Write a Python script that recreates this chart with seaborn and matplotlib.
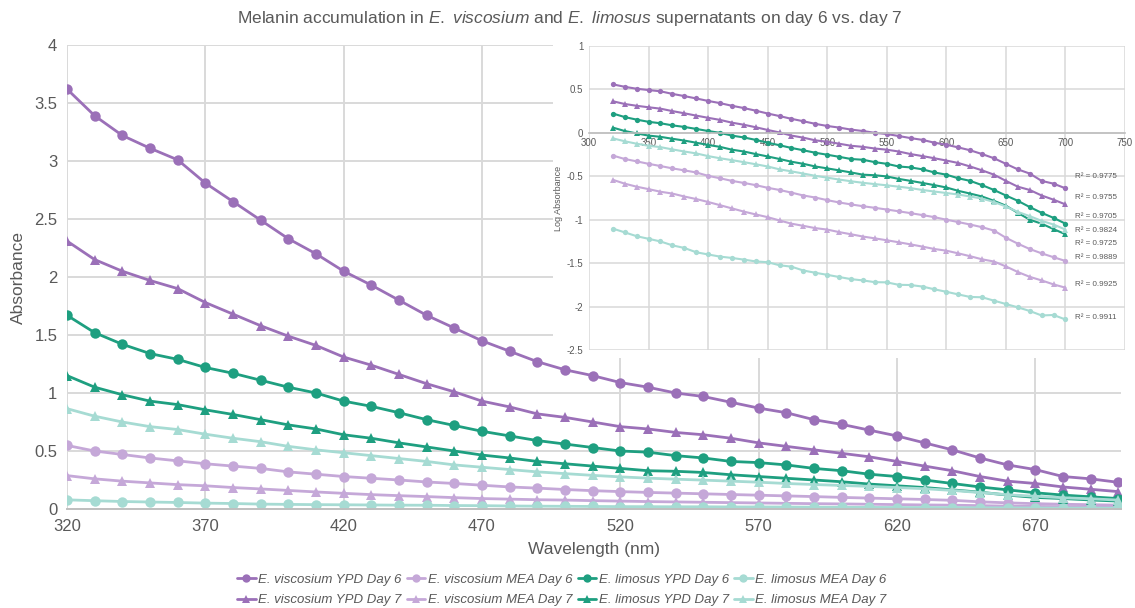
import numpy as np
import pandas as pd
import seaborn as sns
import matplotlib.pyplot as plt
from matplotlib.patches import Rectangle
from matplotlib.lines import Line2D

sns.set_style('white')
plt.rcParams['font.family'] = ['Liberation Sans', 'DejaVu Sans']
plt.rcParams['mathtext.fontset'] = 'custom'
plt.rcParams['mathtext.rm'] = 'Liberation Sans'
plt.rcParams['mathtext.it'] = 'Liberation Sans:italic'
plt.rcParams['axes.unicode_minus'] = False

# %% data (absorbance, 320-700 nm every 10 nm)
wavelength = list(range(320, 701, 10))

visc_ypd_d6 = [3.62, 3.39, 3.22, 3.11, 3.01, 2.81, 2.65, 2.49, 2.33, 2.20,
               2.05, 1.93, 1.80, 1.67, 1.56, 1.45, 1.36, 1.27, 1.20, 1.15,
               1.09, 1.05, 1.00, 0.97, 0.92, 0.87, 0.83, 0.77, 0.73, 0.68,
               0.63, 0.57, 0.51, 0.44, 0.38, 0.34, 0.28, 0.26, 0.23]
visc_ypd_d7 = [2.31, 2.15, 2.05, 1.97, 1.90, 1.78, 1.68, 1.58, 1.49, 1.41,
               1.31, 1.24, 1.16, 1.08, 1.01, 0.93, 0.88, 0.82, 0.79, 0.75,
               0.71, 0.69, 0.66, 0.64, 0.61, 0.57, 0.54, 0.51, 0.48, 0.45,
               0.41, 0.37, 0.33, 0.28, 0.24, 0.22, 0.19, 0.17, 0.15]
visc_mea_d6 = [0.548, 0.50, 0.47, 0.44, 0.415, 0.39, 0.37, 0.35, 0.32, 0.30,
               0.28, 0.265, 0.25, 0.233, 0.22, 0.205, 0.19, 0.18, 0.168, 0.158,
               0.15, 0.143, 0.137, 0.131, 0.125, 0.119, 0.113, 0.107, 0.10, 0.094,
               0.088, 0.082, 0.075, 0.062, 0.053, 0.046, 0.041, 0.037, 0.0335]
visc_mea_d7 = [0.288, 0.26, 0.24, 0.225, 0.21, 0.20, 0.185, 0.173, 0.16, 0.147,
               0.135, 0.124, 0.115, 0.107, 0.098, 0.09, 0.085, 0.08, 0.077, 0.072,
               0.068, 0.064, 0.061, 0.058, 0.055, 0.052, 0.049, 0.046, 0.044, 0.041,
               0.038, 0.035, 0.033, 0.029, 0.025, 0.022, 0.020, 0.018, 0.0165]
lim_ypd_d6 = [1.67, 1.52, 1.42, 1.34, 1.29, 1.22, 1.17, 1.11, 1.05, 1.00,
              0.93, 0.885, 0.83, 0.77, 0.72, 0.67, 0.63, 0.59, 0.56, 0.53,
              0.50, 0.49, 0.46, 0.44, 0.41, 0.40, 0.38, 0.35, 0.33, 0.30,
              0.28, 0.25, 0.22, 0.19, 0.165, 0.14, 0.12, 0.105, 0.09]
lim_ypd_d7 = [1.15, 1.05, 0.985, 0.93, 0.90, 0.855, 0.815, 0.77, 0.725, 0.69,
              0.64, 0.61, 0.57, 0.535, 0.50, 0.465, 0.44, 0.41, 0.39, 0.37,
              0.35, 0.33, 0.325, 0.315, 0.295, 0.28, 0.265, 0.25, 0.235, 0.215,
              0.20, 0.185, 0.165, 0.145, 0.12, 0.10, 0.09, 0.078, 0.068]
lim_mea_d6 = [0.079, 0.0715, 0.0646, 0.0603, 0.0562, 0.0507, 0.0473, 0.0422, 0.0398, 0.0376,
              0.0363, 0.0347, 0.0331, 0.0324, 0.0299, 0.0288, 0.0260, 0.0245, 0.0232, 0.0219,
              0.0207, 0.0200, 0.0191, 0.0190, 0.0178, 0.0177, 0.0170, 0.0158, 0.0148, 0.0138,
              0.0129, 0.0128, 0.0117, 0.0107, 0.0098, 0.0089, 0.0079, 0.0080, 0.0071]
lim_mea_d7 = [0.865, 0.80, 0.75, 0.71, 0.685, 0.645, 0.61, 0.58, 0.54, 0.51,
              0.485, 0.46, 0.435, 0.41, 0.38, 0.36, 0.34, 0.32, 0.305, 0.29,
              0.277, 0.266, 0.257, 0.249, 0.24, 0.231, 0.22, 0.211, 0.203, 0.195,
              0.185, 0.175, 0.16, 0.142, 0.123, 0.11, 0.097, 0.088, 0.077]

series_names = ['E. viscosium YPD Day 6', 'E. viscosium YPD Day 7',
                'E. viscosium MEA Day 6', 'E. viscosium MEA Day 7',
                'E. limosus YPD Day 6', 'E. limosus YPD Day 7',
                'E. limosus MEA Day 6', 'E. limosus MEA Day 7']
series_values = [visc_ypd_d6, visc_ypd_d7, visc_mea_d6, visc_mea_d7,
                 lim_ypd_d6, lim_ypd_d7, lim_mea_d6, lim_mea_d7]

# R^2 of the log trendlines, top to bottom as printed in the inset
r2_labels = ['0.9775', '0.9755', '0.9705', '0.9824', '0.9725', '0.9889', '0.9925', '0.9911']

# %% styling
DARK_PURPLE = '#9b70b8'
LIGHT_PURPLE = '#c5a8d8'
DARK_TEAL = '#1e9f80'
LIGHT_TEAL = '#a6dbd3'
palette = dict(zip(series_names, [DARK_PURPLE, DARK_PURPLE, LIGHT_PURPLE, LIGHT_PURPLE,
                                  DARK_TEAL, DARK_TEAL, LIGHT_TEAL, LIGHT_TEAL]))
markers = dict(zip(series_names, ['o', '^'] * 4))
GRID = '#d9d9d9'
TXT = '#595959'

df = pd.concat([pd.DataFrame({'Wavelength': wavelength, 'Absorbance': vals, 'series': name})
                for name, vals in zip(series_names, series_values)], ignore_index=True)
df['LogAbs'] = np.log10(df['Absorbance'])

W, H = 1135, 608
fig = plt.figure(figsize=(W / 100, H / 100), dpi=100)

# %% main chart
ax = fig.add_axes([67 / W, 1 - 509 / H, 1054 / W, 464 / H], zorder=1)
sns.lineplot(data=df, x='Wavelength', y='Absorbance', hue='series', style='series',
             hue_order=series_names, style_order=series_names,
             palette=palette, markers=markers, dashes=False,
             markersize=7.5, markeredgewidth=0, linewidth=2,
             legend=False, ax=ax)
ax.set_xlim(320, 701)
ax.set_ylim(0, 4)
ax.set_xticks(range(320, 701, 50))
ax.set_yticks(np.arange(0, 4.01, 0.5))
ax.set_yticklabels(['0', '0.5', '1', '1.5', '2', '2.5', '3', '3.5', '4'])
ax.grid(True, color=GRID, linewidth=1.4)
ax.set_axisbelow(True)
for s in ['top', 'right', 'left']:
    ax.spines[s].set_visible(False)
ax.spines['bottom'].set_color('#bfbfbf')
ax.spines['bottom'].set_linewidth(1.4)
ax.tick_params(length=0, labelsize=12, colors=TXT, pad=7)
ax.set_xlabel('Wavelength (nm)', fontsize=12.5, color=TXT, labelpad=6)
ax.set_ylabel('Absorbance', fontsize=12.5, color=TXT, labelpad=6)

# white backing behind the inset
fig.patches.append(Rectangle((553 / W, 1 - 358 / H), (W - 553) / W, 325 / H,
                             transform=fig.transFigure, facecolor='white',
                             edgecolor='none', zorder=2))

# %% inset: log absorbance
ax_in = fig.add_axes([589 / W, 1 - 350 / H, 536 / W, 304 / H], zorder=3)
ax_in.patch.set_alpha(0)
sns.lineplot(data=df, x='Wavelength', y='LogAbs', hue='series', style='series',
             hue_order=series_names, style_order=series_names,
             palette=palette, markers=markers, dashes=False,
             markersize=3.8, markeredgewidth=0, linewidth=1.5,
             legend=False, ax=ax_in)
ax_in.set_xlim(300, 750)
ax_in.set_ylim(-2.5, 1)
ax_in.set_xticks(range(300, 751, 50))
ax_in.set_yticks(np.arange(-2.5, 1.01, 0.5))
ax_in.set_yticklabels(['-2.5', '-2', '-1.5', '-1', '-0.5', '0', '0.5', '1'])
ax_in.grid(True, color=GRID, linewidth=1.1)
ax_in.set_axisbelow(True)
for s in ['top', 'right', 'left']:
    ax_in.spines[s].set_visible(False)
ax_in.spines['bottom'].set_position(('data', 0))
ax_in.spines['bottom'].set_color('#bfbfbf')
ax_in.spines['bottom'].set_linewidth(1.2)
ax_in.tick_params(axis='y', length=0, labelsize=7, colors=TXT, pad=4)
ax_in.tick_params(axis='x', length=0, labelsize=7, colors=TXT, pad=4)
ax_in.set_xlabel('')
ax_in.set_ylabel('Log Absorbance', fontsize=6.5, color=TXT, labelpad=3)

r2_y = [-0.50, -0.74, -0.96, -1.12, -1.27, -1.43, -1.75, -2.13]
for lab, yy in zip(r2_labels, r2_y):
    ax_in.text(708, yy, f'R² = {lab}', fontsize=5.8, color=TXT, va='center', ha='left')

# %% title and legend
fig.text(0.502, 1 - 18 / H,
         r'Melanin accumulation in $\it{E.\ viscosium}$ and $\it{E.\ limosus}$ supernatants on day 6 vs. day 7',
         ha='center', va='center', fontsize=12.5, color=TXT)

handles = [Line2D([], [], color=palette[n], marker=markers[n], markersize=6,
                  markeredgewidth=0, linewidth=2) for n in series_names]
leg = fig.legend(handles, series_names, loc='center', bbox_to_anchor=(0.495, 1 - 590 / H),
                 ncol=4, frameon=False, handlelength=1.4, handletextpad=0.2,
                 columnspacing=0.4, labelspacing=0.6,
                 prop={'style': 'italic', 'size': 9.5})
for t in leg.get_texts():
    t.set_color(TXT)

fig.savefig('out.png', dpi=100)
